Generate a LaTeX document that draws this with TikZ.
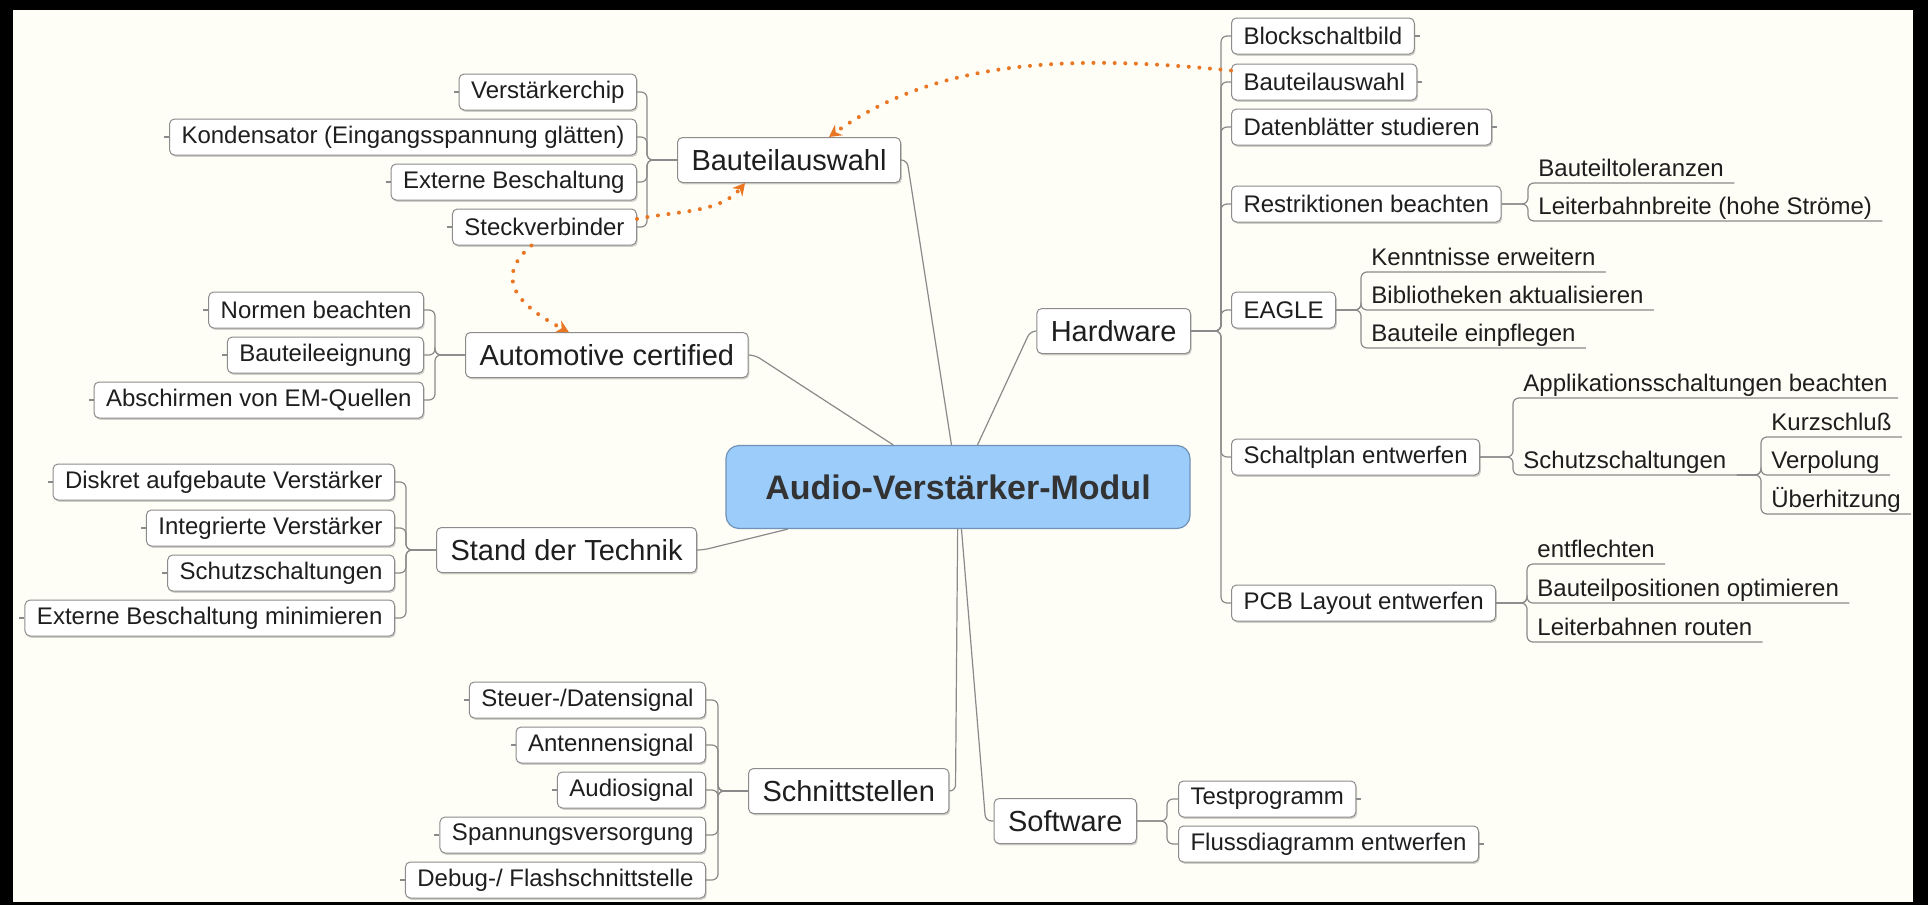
\documentclass[tikz,border=0pt]{standalone}
\usepackage{fontspec}
\setmainfont{Liberation Sans}
\usetikzlibrary{arrows.meta,shadows,calc}

\definecolor{paper}{RGB}{254,253,246}
\definecolor{rootblue}{RGB}{155,204,250}
\definecolor{rootline}{RGB}{112,146,182}
\definecolor{rootink}{RGB}{51,51,51}
\definecolor{boxline}{RGB}{140,140,140}
\definecolor{linkgray}{RGB}{138,138,138}
\definecolor{relorange}{RGB}{232,118,34}
\definecolor{ink}{RGB}{30,30,30}

\begin{document}
\begin{tikzpicture}[
  x=0.5pt,y=-0.5pt,
  >=Stealth,
  text=ink,
  root/.style={draw=rootline,fill=rootblue,rounded corners=6.5pt,line width=0.6pt,
    minimum width=232pt,minimum height=41.5pt,
    font=\fontsize{17}{20}\selectfont\bfseries,text=rootink},
  box/.style={draw=boxline,fill=white,rounded corners=2.5pt,line width=0.5pt,
    drop shadow={shadow xshift=0.6pt,shadow yshift=-0.9pt,fill=black,opacity=0.18}},
  branch/.style={box,font=\fontsize{14.5}{17}\selectfont,inner xsep=7pt,minimum height=22.5pt},
  leaf/.style={box,font=\fontsize{12}{14}\selectfont,inner xsep=6pt,minimum height=18pt},
  leafl/.style={leaf,anchor=east},
  leafr/.style={leaf,anchor=west},
  sub/.style={font=\fontsize{12}{14}\selectfont,inner xsep=5pt,inner ysep=3pt,
    text depth=0pt,anchor=south west},
  link/.style={draw=linkgray,line width=0.6pt,rounded corners=3pt},
  rel/.style={draw=relorange,line width=2pt,line cap=round,
    dash pattern=on 0pt off 5.3pt,-{Stealth[length=6pt,width=6.5pt,fill=relorange]}}
]
\useasboundingbox (0,0) rectangle (1928,905);
\fill[black] (0,0) rectangle (1928,905);
\fill[paper] (13,10) rectangle (1913,902);

% centre
\node[root] (root) at (958,487) {Audio-Verstärker-Modul};

% left branches
\node[branch,anchor=west] (BA) at (677,160) {Bauteilauswahl};
\node[leafl] (vchip) at (637,92) {Verstärkerchip};
\node[leafl] (kond) at (637,137) {Kondensator (Eingangsspannung glätten)};
\node[leafl] (extb) at (637,182) {Externe Beschaltung};
\node[leafl] (steck) at (637,227) {Steckverbinder};

\node[branch,anchor=west] (AC) at (465,355) {Automotive certified};
\node[leafl] (normen) at (424,310) {Normen beachten};
\node[leafl] (eign) at (424,355) {Bauteileeignung};
\node[leafl] (absch) at (424,400) {Abschirmen von EM-Quellen};

\node[branch,anchor=west] (SdT) at (436,550) {Stand der Technik};
\node[leafl] (diskret) at (395,482) {Diskret aufgebaute Verstärker};
\node[leafl] (integ) at (395,528) {Integrierte Verstärker};
\node[leafl] (schutz) at (395,573) {Schutzschaltungen};
\node[leafl] (extmin) at (395,618) {Externe Beschaltung minimieren};

\node[branch,anchor=west] (SS) at (748,791) {Schnittstellen};
\node[leafl] (steuer) at (706,700) {Steuer-/Datensignal};
\node[leafl] (antenne) at (706,745) {Antennensignal};
\node[leafl] (audio) at (706,790) {Audiosignal};
\node[leafl] (spann) at (706,835) {Spannungsversorgung};
\node[leafl] (debug) at (706,880) {Debug-/ Flashschnittstelle};

% right branches
\node[branch,anchor=east] (HW) at (1191,331) {Hardware};
\node[leafr] (blk) at (1231,36) {Blockschaltbild};
\node[leafr] (hwba) at (1231,82) {Bauteilauswahl};
\node[leafr] (dat) at (1231,127) {Datenblätter studieren};
\node[leafr] (restr) at (1231,204) {Restriktionen beachten};
\node[leafr] (eagle) at (1231,310) {EAGLE};
\node[leafr] (schalt) at (1231,457) {Schaltplan entwerfen};
\node[leafr] (pcb) at (1231,603) {PCB Layout entwerfen};

\node[sub] (tol) at (1528,183) {Bauteiltoleranzen};
\node[sub] (lbb) at (1528,221) {Leiterbahnbreite (hohe Ströme)};
\node[sub] (kenn) at (1361,272) {Kenntnisse erweitern};
\node[sub] (bib) at (1361,310) {Bibliotheken aktualisieren};
\node[sub] (einpf) at (1361,348) {Bauteile einpflegen};
\node[sub] (appl) at (1513,398) {Applikationsschaltungen beachten};
\node[sub] (schS) at (1513,475) {Schutzschaltungen};
\node[sub] (kurz) at (1761,437) {Kurzschluß};
\node[sub] (verp) at (1761,475) {Verpolung};
\node[sub] (ueber) at (1761,514) {Überhitzung};
\node[sub] (entfl) at (1527,564) {entflechten};
\node[sub] (bpos) at (1527,603) {Bauteilpositionen optimieren};
\node[sub] (routen) at (1527,642) {Leiterbahnen routen};

\node[branch,anchor=east] (SW) at (1137,821) {Software};
\node[leafr] (test) at (1178,799) {Testprogramm};
\node[leafr] (fluss) at (1178,844) {Flussdiagramm entwerfen};

% centre to main topics
\draw[link] (BA.east) -- ++(6,0) -- (root);
\draw[link] (AC.east) -- ++(6,0) -- (root);
\draw[link] (SdT.east) -- ++(6,0) -- (root);
\draw[link] (SS.east) -- ++(6,0) -- (root);
\draw[link] (HW.west) -- ++(-6,0) -- (root);
\draw[link] (SW.west) -- ++(-8,0) -- (root);

% topics to subtopics
\foreach \c in {vchip,kond,extb,steck}
  \draw[link] (BA.west) -- ++(-30,0) |- (\c.east);
\foreach \c in {normen,eign,absch}
  \draw[link] (AC.west) -- ++(-30,0) |- (\c.east);
\foreach \c in {diskret,integ,schutz,extmin}
  \draw[link] (SdT.west) -- ++(-30,0) |- (\c.east);
\foreach \c in {steuer,antenne,audio,spann,debug}
  \draw[link] (SS.west) -- ++(-30,0) |- (\c.east);
\foreach \c in {blk,hwba,dat,restr,eagle,schalt,pcb}
  \draw[link] (HW.east) -- ++(30,0) |- (\c.west);
\foreach \c in {test,fluss}
  \draw[link] (SW.east) -- ++(30,0) |- (\c.west);

\foreach \c in {tol,lbb}
  \draw[link] (restr.east) -- (restr.east -| \c.south west) |- (\c.south east);
\foreach \c in {kenn,bib,einpf}
  \draw[link] (eagle.east) -- (eagle.east -| \c.south west) |- (\c.south east);
\foreach \c in {appl,schS}
  \draw[link] (schalt.east) -- (schalt.east -| \c.south west) |- (\c.south east);
\foreach \c in {kurz,verp,ueber}
  \draw[link] (schS.south east) -- (schS.south east -| \c.south west) |- (\c.south east);
\foreach \c in {entfl,bpos,routen}
  \draw[link] (pcb.east) -- (pcb.east -| \c.south west) |- (\c.south east);

% collapse stubs
\foreach \n in {vchip,kond,extb,steck,normen,eign,absch,diskret,integ,schutz,extmin,
    steuer,antenne,audio,spann,debug}
  \draw[link] (\n.west) -- ++(-5,0);
\foreach \n in {blk,hwba,dat,test,fluss}
  \draw[link] (\n.east) -- ++(5,0);

% relations
\draw[rel] (hwba.173) .. controls +(-150,-15) and +(112,-81) .. ([xshift=20pt]BA.north);
\draw[rel] (steck.5) .. controls +(40,-8) and +(-25,30) .. ([xshift=-22pt]BA.south);
\draw[rel] ([xshift=-6.5pt]steck.south) .. controls +(-40,34) and +(-48,-25) .. ([xshift=-19pt]AC.north);
\end{tikzpicture}
\end{document}
